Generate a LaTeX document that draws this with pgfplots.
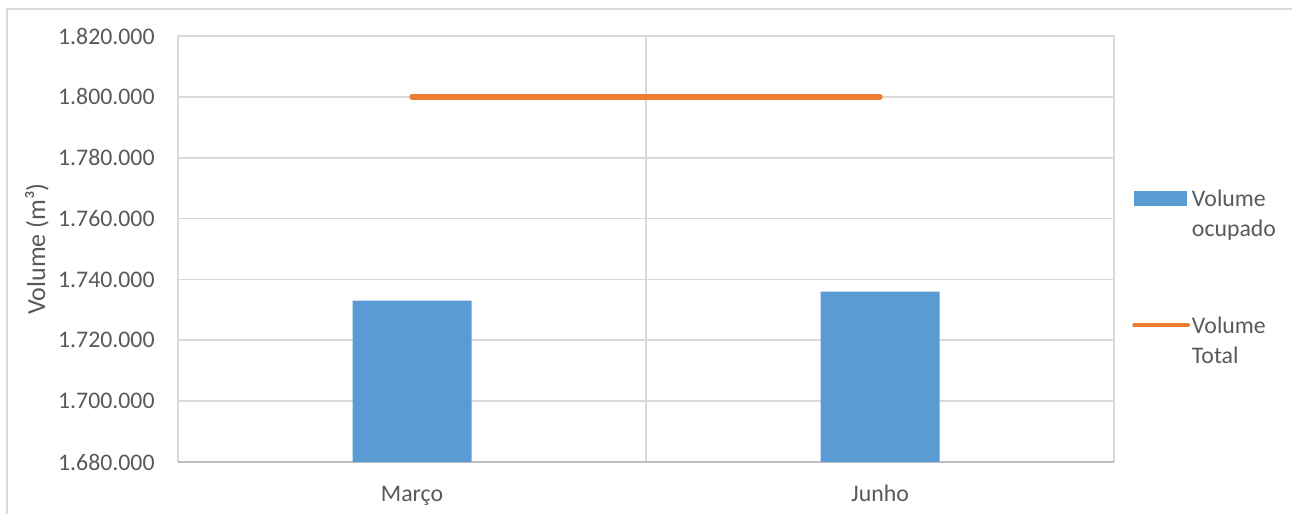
\documentclass[border=0pt]{standalone}
\usepackage{pgfplots}
\pgfplotsset{compat=1.18}
\usepackage{fontspec}
\setmainfont{Carlito}
\definecolor{txtgray}{HTML}{595959}
\definecolor{gridgray}{HTML}{D9D9D9}
\definecolor{axgray}{HTML}{BFBFBF}
\definecolor{xlblue}{HTML}{5B9BD5}
\definecolor{xlorange}{HTML}{ED7D31}
\begin{document}
\begin{tikzpicture}
\useasboundingbox (0,0) rectangle (646bp,257bp);
\draw[gridgray, line width=1bp] (3.5bp,0bp) |- (646bp,252.5bp);
\begin{axis}[
  at={(89bp,26bp)}, anchor=south west,
  scale only axis, width=468bp, height=213bp,
  xmin=-0.5, xmax=1.5, ymin=1680000, ymax=1820000,
  xtick={0,1}, xticklabels={Março,Junho},
  minor xtick={-0.5,0.5,1.5},
  ytick={1680000,1700000,1720000,1740000,1760000,1780000,1800000,1820000},
  extra y ticks={1680000}, extra y tick labels={},
  extra y tick style={grid style={axgray, line width=1.2bp}},
  ymajorgrids, xminorgrids,
  grid style={gridgray, line width=0.8bp},
  minor grid style={gridgray, line width=0.8bp},
  axis line style={draw=none},
  major tick length=0pt, minor tick length=0pt,
  scaled y ticks=false,
  /pgf/number format/.cd, fixed, precision=0, 1000 sep={.}, assume math mode=true,
  /pgfplots/.cd,
  yticklabel style={font=\fontsize{11.9bp}{14bp}\selectfont, text=txtgray, inner sep=0pt, anchor=east, xshift=-11.5bp},
  xticklabel style={font=\fontsize{11.9bp}{14bp}\selectfont, text=txtgray, inner sep=0pt, anchor=base, yshift=-19.5bp},
  ylabel={Volume (m³)},
  every axis y label/.style={at={([xshift=-70.5bp]axis description cs:0,0.5)}, rotate=90, anchor=center, font=\fontsize{13bp}{15bp}\selectfont, text=txtgray},
  legend style={at={(axis description cs:1.0192,0.6432)}, anchor=north west, draw=none, fill=none,
    inner xsep=0pt, inner ysep=0pt, row sep=38bp,
    nodes={inner sep=1pt, text depth=0pt, font=\fontsize{11.9bp}{15bp}\selectfont, text=txtgray},
    cells={align=left}},
  legend cell align=left,
  clip=true,
]
\addplot[ybar, bar width=59.5bp, fill=xlblue, draw=none,
  legend image code/.code={\fill[xlblue] (0bp,3.75bp) rectangle (26.5bp,11.25bp); \path[draw=none, fill=none] (0bp,-11.25bp) -- (0bp,11.25bp);}]
  coordinates {(0,1733000) (1,1736000)};
\addlegendentry{Volume\\ocupado}
\addplot[xlorange, line width=2.7bp, line cap=round, mark=none,
  legend image code/.code={\draw[xlorange, line width=1.8bp, line cap=round] (0bp,7.5bp) -- (27bp,7.5bp); \path[draw=none, fill=none] (0bp,-11.25bp) -- (0bp,11.25bp);}]
  coordinates {(0,1800000) (1,1800000)};
\addlegendentry{Volume\\Total}
\end{axis}
\end{tikzpicture}
\end{document}
